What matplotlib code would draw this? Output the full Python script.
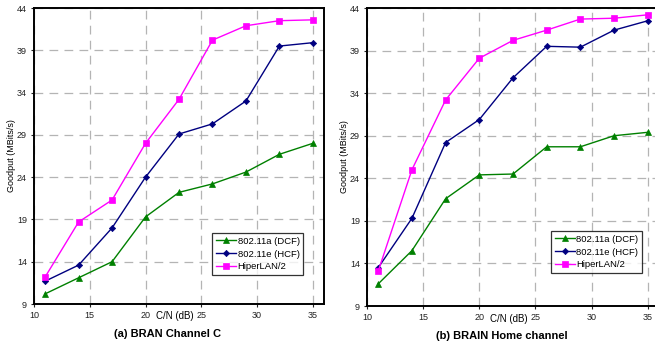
import matplotlib

matplotlib.use("Agg")
import matplotlib.pyplot as plt
from matplotlib.transforms import blended_transform_factory

plt.rcParams["font.family"] = ["Liberation Sans", "DejaVu Sans"]

cn_db = [11, 14, 17, 20, 23, 26, 29, 32, 35]
series_names = ["802.11a (DCF)", "802.11e (HCF)", "HiperLAN/2"]

# (a) BRAN Channel C
bran_dcf = [10.2, 12.1, 14.0, 19.3, 22.2, 23.2, 24.6, 26.7, 28.0]
bran_hcf = [11.7, 13.6, 18.0, 24.0, 29.1, 30.3, 33.0, 39.5, 39.9]
bran_hiper = [12.2, 18.7, 21.3, 28.0, 33.2, 40.2, 41.9, 42.5, 42.6]

# (b) BRAIN Home channel
home_dcf = [11.6, 15.5, 21.6, 24.4, 24.5, 27.7, 27.7, 29.0, 29.4]
home_hcf = [13.5, 19.3, 28.2, 30.9, 35.8, 39.5, 39.4, 41.4, 42.5]
home_hiper = [13.1, 25.0, 33.2, 38.1, 40.2, 41.4, 42.7, 42.8, 43.2]

y_ticks = [9, 14, 19, 24, 29, 34, 39, 44]
x_ticks = [10, 15, 20, 25, 30, 35]

styles = [
    dict(color="#008000", marker="^", markersize=4.5),
    dict(color="#000080", marker="D", markersize=3.2),
    dict(color="#ff00ff", marker="s", markersize=4.2),
]

W, H = 655, 343
fig = plt.figure(figsize=(W / 100, H / 100), dpi=100)


def make_axes(left, right, top, bottom):
    return fig.add_axes([left / W, 1 - bottom / H, (right - left) / W, (bottom - top) / H])


panels = [
    (make_axes(34, 324, 8, 304), [bran_dcf, bran_hcf, bran_hiper], "(a) BRAN Channel C", (212, 233)),
    (make_axes(367, 659, 8, 306), [home_dcf, home_hcf, home_hiper], "(b) BRAIN Home channel", (551, 231)),
]

for ax, data, title, (lx, ly) in panels:
    for name, values, st in zip(series_names, data, styles):
        ax.plot(cn_db, values, linewidth=1.0, label=name, markeredgewidth=0.5, **st)
    ax.set_xlim(10, 36)
    ax.set_ylim(9, 44)
    ax.set_xticks(x_ticks)
    ax.set_yticks(y_ticks)
    ax.tick_params(labelsize=6.5, length=2, width=0.8, pad=3, colors="#222222")
    ax.grid(True, color="#b4b4b4", linestyle=(0, (7, 5)), linewidth=0.9)
    for sp in ax.spines.values():
        sp.set_linewidth(1.4)
        sp.set_color("black")
    ax.set_ylabel("Goodput (MBits/s)", fontsize=6.5, labelpad=1)
    tr = blended_transform_factory(ax.transData, ax.transAxes)
    ax.text(22.6, -0.042, "C/N (dB)", transform=tr, ha="center", va="center", fontsize=7)
    ax.text(0.46, -0.101, title, transform=ax.transAxes, ha="center", va="center",
            fontsize=8, fontweight="bold")
    leg = ax.legend(loc="upper left", fontsize=6.8, frameon=True, fancybox=False,
                    borderpad=0.4, labelspacing=0.4, handlelength=2.1,
                    handletextpad=0.2, borderaxespad=0,
                    bbox_to_anchor=(lx / W, 1 - ly / H), bbox_transform=fig.transFigure)
    leg.get_frame().set_edgecolor("black")
    leg.get_frame().set_linewidth(0.9)

fig.savefig("out.png", dpi=100)
